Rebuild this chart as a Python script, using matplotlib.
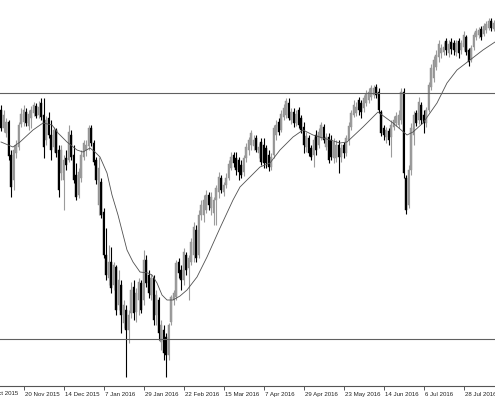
import matplotlib
matplotlib.use("Agg")
import matplotlib.pyplot as plt
import matplotlib.transforms as mtransforms
import numpy as np

# daily OHLC (bar 0 = left edge)
opens = [2090, 2072, 2067, 2078, 2045, 2020, 2047, 2053, 2076, 2078,
         2088, 2074, 2082, 2087, 2094, 2085, 2097, 2085, 2060, 2082,
         2065, 2053, 2070, 2050, 2027, 2020, 2042, 2040, 2065, 2045,
         2025, 2005, 2022, 2043, 2050, 2054, 2072, 2057, 2040, 1995,
         2018, 1988, 1945, 1922, 1938, 1915, 1933, 1895, 1915, 1877,
         1890, 1870, 1887, 1913, 1888, 1900, 1917, 1900, 1940, 1925,
         1905, 1922, 1885, 1900, 1858, 1870, 1863, 1845, 1878, 1900,
         1903, 1938, 1930, 1920, 1945, 1932, 1938, 1945, 1970, 1945,
         1985, 1985, 1990, 2005, 1992, 1987, 2000, 2008, 2022, 2008,
         2015, 2022, 2032, 2045, 2042, 2040, 2035, 2028, 2042, 2050,
         2055, 2054, 2062, 2047, 2058, 2055, 2052, 2045, 2033, 2045,
         2065, 2078, 2070, 2083, 2085, 2097, 2080, 2088, 2077, 2090,
         2082, 2073, 2053, 2062, 2052, 2045, 2065, 2055, 2062, 2073,
         2053, 2063, 2060, 2042, 2042, 2055, 2043, 2055, 2047, 2060,
         2073, 2085, 2087, 2100, 2097, 2092, 2097, 2100, 2103, 2105,
         2113, 2108, 2088, 2072, 2063, 2069, 2063, 2073, 2077, 2075,
         2080, 2108, 2022, 1995, 2030, 2065, 2087, 2080, 2095, 2085,
         2077, 2090, 2113, 2122, 2133, 2143, 2147, 2148, 2159, 2147,
         2158, 2157, 2148, 2159, 2150, 2153, 2163, 2150, 2140, 2153,
         2163, 2165, 2171, 2166, 2170, 2172, 2179, 2171]
highs = [2095, 2090, 2082, 2080, 2050, 2055, 2060, 2078, 2092, 2095,
         2092, 2090, 2094, 2098, 2097, 2099, 2102, 2102, 2084, 2088,
         2080, 2073, 2072, 2055, 2055, 2045, 2050, 2075, 2070, 2055,
         2037, 2032, 2050, 2060, 2060, 2075, 2075, 2060, 2043, 2043,
         2022, 1992, 1972, 1955, 1953, 1938, 1935, 1930, 1920, 1900,
         1895, 1890, 1918, 1920, 1912, 1922, 1920, 1950, 1945, 1930,
         1926, 1925, 1910, 1903, 1880, 1875, 1867, 1877, 1905, 1910,
         1940, 1942, 1935, 1952, 1948, 1945, 1962, 1978, 1975, 1990,
         2000, 2005, 2010, 2008, 2008, 2003, 2015, 2028, 2025, 2018,
         2027, 2040, 2048, 2048, 2048, 2043, 2040, 2045, 2057, 2063,
         2070, 2065, 2065, 2057, 2062, 2062, 2055, 2050, 2047, 2075,
         2080, 2082, 2090, 2096, 2102, 2102, 2092, 2092, 2090, 2093,
         2085, 2078, 2068, 2065, 2055, 2063, 2070, 2072, 2078, 2076,
         2067, 2067, 2065, 2062, 2060, 2060, 2056, 2058, 2065, 2078,
         2090, 2100, 2098, 2103, 2100, 2105, 2110, 2112, 2115, 2115,
         2116, 2112, 2090, 2075, 2073, 2072, 2080, 2084, 2088, 2090,
         2112, 2112, 2025, 2035, 2077, 2089, 2090, 2103, 2098, 2090,
         2093, 2118, 2136, 2144, 2150, 2160, 2156, 2158, 2162, 2160,
         2162, 2160, 2160, 2162, 2160, 2169, 2165, 2152, 2155, 2168,
         2172, 2173, 2174, 2177, 2179, 2182, 2182, 2180]
lows = [2069, 2068, 2063, 2040, 2003, 2010, 2042, 2050, 2073, 2074,
        2074, 2070, 2072, 2084, 2082, 2082, 2080, 2042, 2055, 2062,
        2040, 2048, 2043, 2003, 2020, 1990, 2030, 2038, 2040, 2017,
        2000, 2002, 2018, 2040, 2044, 2050, 2054, 2035, 2016, 1985,
        1982, 1942, 1920, 1915, 1907, 1910, 1885, 1890, 1867, 1872,
        1823, 1857, 1882, 1880, 1878, 1885, 1887, 1895, 1913, 1902,
        1900, 1875, 1875, 1860, 1850, 1840, 1823, 1840, 1875, 1895,
        1900, 1922, 1910, 1915, 1925, 1900, 1935, 1938, 1938, 1942,
        1980, 1978, 1987, 1990, 1985, 1975, 1975, 2002, 2007, 2004,
        2012, 2020, 2030, 2033, 2025, 2020, 2022, 2024, 2038, 2045,
        2050, 2050, 2048, 2042, 2035, 2032, 2032, 2029, 2030, 2042,
        2060, 2065, 2068, 2080, 2082, 2080, 2076, 2073, 2074, 2072,
        2067, 2047, 2048, 2044, 2040, 2033, 2045, 2052, 2060, 2057,
        2050, 2037, 2040, 2037, 2038, 2027, 2038, 2042, 2044, 2055,
        2070, 2083, 2084, 2085, 2082, 2088, 2094, 2097, 2100, 2102,
        2102, 2087, 2064, 2060, 2057, 2055, 2043, 2070, 2074, 2072,
        2076, 2022, 1986, 1992, 2025, 2055, 2074, 2076, 2076, 2067,
        2073, 2088, 2110, 2118, 2130, 2138, 2142, 2145, 2145, 2143,
        2146, 2145, 2144, 2142, 2146, 2150, 2145, 2134, 2138, 2150,
        2160, 2162, 2160, 2164, 2167, 2170, 2169, 2169]
closes = [2072, 2085, 2078, 2044, 2013, 2050, 2055, 2075, 2086, 2090,
          2077, 2086, 2090, 2095, 2084, 2093, 2083, 2053, 2080, 2065,
          2050, 2070, 2047, 2010, 2050, 2040, 2035, 2068, 2043, 2020,
          2003, 2028, 2045, 2057, 2055, 2072, 2057, 2038, 2020, 2032,
          1985, 1945, 1925, 1938, 1912, 1935, 1890, 1920, 1885, 1895,
          1870, 1885, 1910, 1887, 1907, 1918, 1890, 1940, 1917, 1907,
          1922, 1880, 1905, 1867, 1875, 1847, 1845, 1875, 1903, 1907,
          1937, 1927, 1920, 1948, 1930, 1942, 1958, 1973, 1942, 1985,
          1995, 2000, 2005, 1995, 2003, 2000, 2012, 2023, 2010, 2015,
          2022, 2036, 2043, 2037, 2030, 2028, 2025, 2042, 2053, 2060,
          2067, 2060, 2050, 2053, 2038, 2037, 2037, 2033, 2043, 2072,
          2075, 2068, 2086, 2092, 2099, 2082, 2088, 2077, 2086, 2075,
          2070, 2055, 2064, 2047, 2043, 2060, 2050, 2068, 2075, 2060,
          2063, 2040, 2043, 2058, 2055, 2043, 2052, 2047, 2062, 2074,
          2087, 2095, 2093, 2090, 2088, 2102, 2106, 2108, 2112, 2112,
          2105, 2090, 2067, 2065, 2070, 2060, 2075, 2080, 2084, 2085,
          2108, 2027, 1990, 2030, 2072, 2085, 2077, 2098, 2080, 2077,
          2090, 2115, 2132, 2140, 2145, 2156, 2152, 2153, 2150, 2156,
          2151, 2150, 2157, 2147, 2157, 2165, 2148, 2138, 2152, 2165,
          2169, 2170, 2163, 2174, 2176, 2179, 2172, 2177]

# moving average line, read at a number of bars
ma_bar = [0, 4.8, 7.6, 12.8, 16.8, 20.4, 22.8, 26.4, 30.4, 32.8, 35.6, 37.6,
          39.6, 42.4, 44.4, 46.8, 50.4, 52.8, 55.6, 58.8, 60.4, 62.4, 64.4,
          66.4, 68.8, 71.6, 74.4, 78.4, 82.4, 87.6, 92.8, 95.6, 103.6, 107.6,
          111.6, 116.8, 120.8, 124.8, 128.8, 131.6, 135.6, 138.4, 144.8,
          150.8, 156.8, 162.4, 164.8, 168.8, 174.4, 178.4, 182.4, 187.6,
          192.8, 197.6]
ma_val = [2058, 2053, 2058, 2070, 2077, 2075, 2067, 2058, 2050, 2048, 2052,
          2048, 2043, 2027, 2005, 1985, 1950, 1938, 1928, 1927, 1925, 1917,
          1905, 1900, 1900, 1904, 1910, 1923, 1943, 1972, 2000, 2013, 2033,
          2037, 2050, 2063, 2070, 2065, 2062, 2060, 2057, 2058, 2073, 2088,
          2077, 2065, 2068, 2077, 2097, 2117, 2130, 2140, 2150, 2158]

# horizontal levels
levels = [2107, 1861.5]

tick_bars = [-7, 9, 25, 41, 57, 73, 89, 105, 121, 137, 153, 169, 185]
tick_labels = ["29 Oct 2015", "20 Nov 2015", "14 Dec 2015", "7 Jan 2016",
               "29 Jan 2016", "22 Feb 2016", "15 Mar 2016", "7 Apr 2016",
               "29 Apr 2016", "23 May 2016", "14 Jun 2016", "6 Jul 2016",
               "28 Jul 2016"]

o = np.array(opens, float)
h = np.array(highs, float)
l = np.array(lows, float)
c = np.array(closes, float)
x = np.arange(len(o))
up = c >= o

fig = plt.figure(figsize=(4.95, 4.0), dpi=100)
ax = fig.add_axes([0, 14 / 400, 1, 386 / 400])

up_col = "#9c9c9c"
dn_col = "#000000"

ax.vlines(x[up], l[up], h[up], color=up_col, linewidth=0.8)
ax.vlines(x[~up], l[~up], h[~up], color=dn_col, linewidth=0.8)
body_lo = np.minimum(o, c)
body_h = np.maximum(np.abs(c - o), 0.8)
ax.bar(x[up], body_h[up], bottom=body_lo[up], width=0.62,
       color=up_col, edgecolor="#8a8a8a", linewidth=0.3)
ax.bar(x[~up], body_h[~up], bottom=body_lo[~up], width=0.62,
       color=dn_col, edgecolor=dn_col, linewidth=0.3)

ax.plot(ma_bar, ma_val, color="#505050", linewidth=0.6)

for lv in levels:
    ax.axhline(lv, color="#606060", linewidth=0.8)

ax.set_xlim(-0.4, 197.6)
ax.set_ylim(1814, 2200)

for s in ["top", "left", "right"]:
    ax.spines[s].set_visible(False)
ax.spines["bottom"].set_color("#555555")
ax.spines["bottom"].set_linewidth(0.8)
ax.set_yticks([])

lab_font = dict(family="Liberation Sans", size=4.4)

vis = [i for i, b in enumerate(tick_bars) if b >= 0]
ax.set_xticks([tick_bars[i] for i in vis], [tick_labels[i] for i in vis])
ax.tick_params(axis="x", direction="out", length=3, width=0.7,
               color="#555555", pad=1.5, labelcolor="#222222")
offset = mtransforms.ScaledTranslation(1.5 / 100, 0, fig.dpi_scale_trans)
for lab in ax.get_xticklabels():
    lab.set_horizontalalignment("left")
    lab.set_fontfamily(lab_font["family"])
    lab.set_fontsize(lab_font["size"])
    lab.set_transform(lab.get_transform() + offset)

# first label sits left of the visible area and is cut by the figure edge
ax.text(tick_bars[0] + 0.6, -0.012, tick_labels[0], transform=ax.get_xaxis_transform(),
        ha="left", va="top", color="#222222", clip_on=False, **lab_font)

fig.savefig("out.png", dpi=100)
